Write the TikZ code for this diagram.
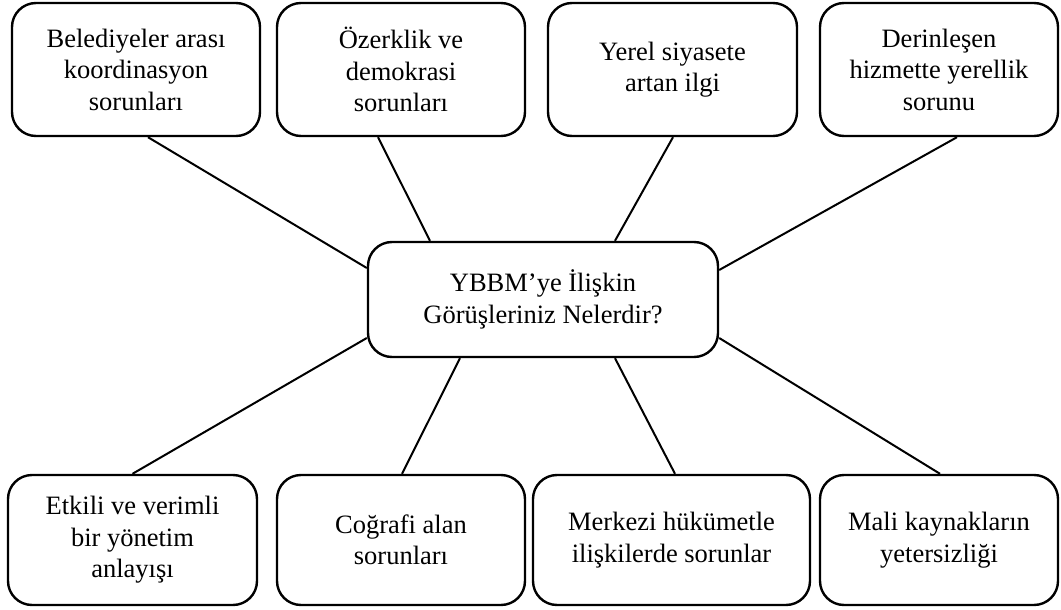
\documentclass[tikz,border=0pt]{standalone}
\usepackage{fontspec}
\setmainfont{Liberation Serif}
\usetikzlibrary{calc}
\begin{document}
\begin{tikzpicture}[x=1pt,y=1pt,
  box/.style={draw=black, line width=2.4pt, rounded corners=24pt, align=center,
    inner sep=0pt, font=\fontsize{26.5}{31.5}\selectfont},
  link/.style={draw=black, line width=2pt}]
\useasboundingbox (0,0) rectangle (1061,-610);
% top row
\node[box, minimum width=248pt, minimum height=133pt] (b1) at (136,-69.5) {Belediyeler arası\\koordinasyon\\sorunları};
\node[box, minimum width=248pt, minimum height=133pt] (b2) at (401,-69.5) {Özerklik ve\\demokrasi\\sorunları};
\node[box, minimum width=249pt, minimum height=133pt] (b3) at (672.5,-69.5) {Yerel siyasete\\artan ilgi};
\node[box, minimum width=238pt, minimum height=133pt] (b4) at (939,-69.5) {Derinleşen\\hizmette yerellik\\sorunu};
% centre
\node[box, minimum width=350pt, minimum height=115pt] (c) at (543,-299.5) {YBBM’ye İlişkin\\Görüşleriniz Nelerdir?};
% bottom row
\node[box, minimum width=249pt, minimum height=130pt] (b5) at (132.5,-540) {Etkili ve verimli\\bir yönetim\\anlayışı};
\node[box, minimum width=248pt, minimum height=130pt] (b6) at (401,-540) {Coğrafi alan\\sorunları};
\node[box, minimum width=277pt, minimum height=130pt] (b7) at (671.5,-540) {Merkezi hükümetle\\ilişkilerde sorunlar};
\node[box, minimum width=238pt, minimum height=130pt] (b8) at (939,-540) {Mali kaynakların\\yetersizliği};
% connectors
\draw[link] ([xshift=12pt]b1.south) -- ([yshift=31.5pt]c.west);
\draw[link] ([xshift=-23pt]b2.south) -- ([xshift=-113pt]c.north);
\draw[link] ([xshift=0.5pt]b3.south) -- ([xshift=72pt]c.north);
\draw[link] ([xshift=18pt]b4.south) -- ([yshift=29.5pt]c.east);
\draw[link] ([yshift=-38.5pt]c.west) -- (b5.north);
\draw[link] ([xshift=-83pt]c.south) -- ([xshift=1pt]b6.north);
\draw[link] ([xshift=72pt]c.south) -- ([xshift=3.5pt]b7.north);
\draw[link] ([yshift=-38.5pt]c.east) -- ([xshift=1pt]b8.north);
\end{tikzpicture}
\end{document}
